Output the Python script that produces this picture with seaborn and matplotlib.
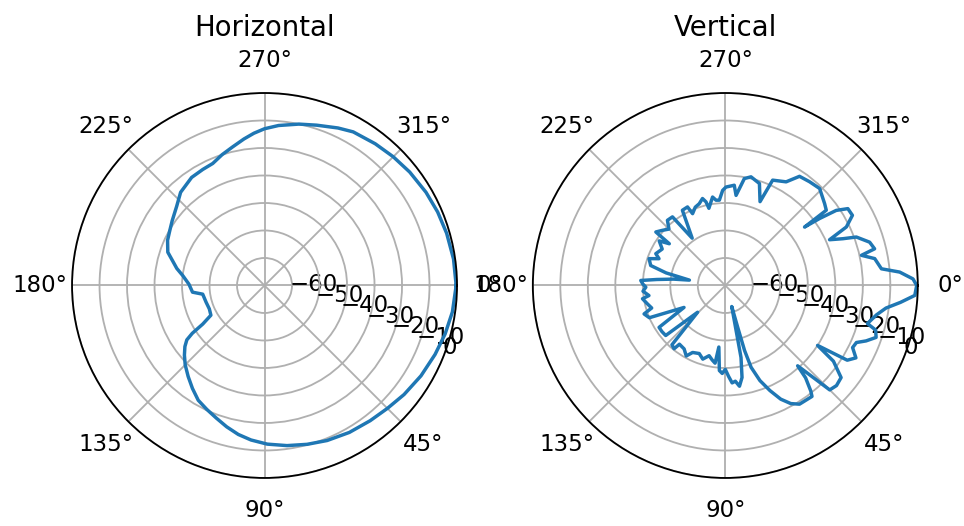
import numpy as np
import matplotlib
matplotlib.use("Agg")
import matplotlib.pyplot as plt
import seaborn as sns

# Horizontal-plane radiation pattern (angle in degrees, gain in dB)
horiz_deg = [0, 8, 15, 22, 30, 38, 45, 52, 60, 68, 75, 82, 89, 95, 100, 105,
             110, 115, 120, 125, 130, 135, 139, 142.5, 145, 146.5, 148, 151,
             157, 164, 172, 174.7, 181, 187, 191, 195, 199, 205, 210, 215, 222,
             228, 236, 242, 247, 252, 257, 262, 266, 270, 275, 282, 288, 295,
             300, 308, 315, 322, 330, 337, 344, 352, 360]
horiz_db = [-0.3, -1.0, -2.0, -3.1, -4.3, -5.6, -6.8, -7.6, -8.3, -9.2, -10.2,
            -11.2, -12.3, -13.6, -15.0, -16.8, -18.7, -20.3, -21.8, -24.3,
            -26.8, -29.2, -31.4, -33.5, -35.5, -38.5, -43.5, -47.7, -48.2,
            -47.9, -47.3, -43.7, -42.5, -40.0, -37.5, -35.4, -32.8, -31.1,
            -30.2, -29.0, -27.0, -24.4, -22.6, -22.2, -21.8, -20.0, -18.3,
            -16.2, -14.5, -13.0, -11.6, -10.0, -8.7, -6.8, -5.5, -4.6, -3.8,
            -3.0, -2.2, -1.6, -1.1, -0.6, -0.3]

# Vertical-plane radiation pattern (angle in degrees, gain in dB)
vert_deg = [0, 3, 5.5, 8, 11, 15, 16.5, 19, 21.5, 23.5, 26, 29, 31.5, 33, 35,
            38.5, 42, 45, 48, 49, 51, 52, 58, 61, 64, 67, 70, 72.5, 73.5, 73.5,
            73, 77.7, 79.7, 82, 84, 86, 88, 90, 92, 94, 96, 97.5, 100, 103, 107,
            111, 116, 119, 123, 128, 129, 132, 136, 140, 144, 147.7, 152, 157,
            160.7, 163, 166.7, 170.9, 172.5, 176, 178.8, 181, 183.4, 185, 187,
            188.5, 192, 195, 199.4, 202, 204.6, 210, 214, 216.7, 217.6, 221.3,
            225, 228.4, 232.4, 235, 240.3, 244.3, 245.5, 249, 252.3, 255.3, 257,
            258, 261.8, 263.8, 266, 268.4, 270.4, 275.1, 276.8, 280.1, 283.3,
            288.5, 292.5, 294.2, 300.4, 304.2, 309.1, 314.2, 320.5, 323.3, 323.6,
            324.6, 325.9, 327.9, 331.1, 334.2, 336.3, 338.3, 339.7, 343.3, 346.2,
            347.5, 349.8, 353.9, 355.6, 358, 360]
vert_db = [-0.4, -1.0, -6.0, -11.0, -14.0, -16.5, -13.0, -12.0, -15.0, -18.0,
           -18.5, -15.7, -18.0, -30.0, -22.0, -16.2, -15.6, -16.3, -30.7, -25.5,
           -20.6, -18.8, -19.1, -20.9, -24.0, -28.5, -33.2, -38.8, -45.3, -54.2,
           -62.0, -43.2, -36.0, -33.0, -35.0, -34.5, -37.0, -39.5, -38.0, -39.0,
           -47.5, -41.5, -42.5, -43.8, -42.0, -43.5, -42.9, -40.7, -42.5, -42.9,
           -40.4, -41.0, -56.0, -41.7, -41.5, -41.5, -53.0, -40.0, -38.7, -42.0,
           -40.9, -39.5, -42.0, -40.0, -41.1, -40.0, -39.2, -45.0, -51.0, -56.8,
           -48.0, -41.9, -40.6, -44.0, -42.2, -43.5, -41.0, -44.6, -38.1, -39.6,
           -41.0, -38.3, -38.5, -49.0, -38.5, -38.3, -41.3, -39.5, -38.8, -37.3,
           -38.8, -41.3, -37.5, -38.8, -38.9, -35.4, -34.2, -33.4, -37.0, -30.5,
           -29.4, -30.9, -37.0, -28.0, -26.3, -22.0, -21.4, -20.8, -23.2, -24.2,
           -34.2, -28.0, -21.3, -17.4, -17.2, -21.1, -28.6, -24.0, -19.2, -15.2,
           -14.1, -19.3, -14.8, -12.9, -6.4, -1.7, -0.4]

titles = ["Horizontal", "Vertical"]
r_ticks = [-60, -50, -40, -30, -20, -10, 0]
r_min, r_max = -70, 0

DPI = 165
fig = plt.figure(figsize=(964 / DPI, 526 / DPI), dpi=DPI)

positions = [[0.0747, 0.0913, 0.3994, 0.7319],
             [0.5527, 0.0913, 0.3994, 0.7319]]
patterns = [(horiz_deg, horiz_db), (vert_deg, vert_db)]

for pos, title, (deg, db) in zip(positions, titles, patterns):
    ax = fig.add_axes(pos, projection="polar")
    ax.set_theta_direction(-1)
    sns.lineplot(x=np.deg2rad(deg), y=db, ax=ax, sort=False, estimator=None,
                 color="#1f77b4", linewidth=1.5)
    ax.set_rlim(r_min, r_max)
    ax.set_rticks(r_ticks)
    ax.set_xlabel("")
    ax.set_ylabel("")
    ax.grid(True)
    ax.set_title(title)

fig.savefig("out.png", dpi=DPI)
